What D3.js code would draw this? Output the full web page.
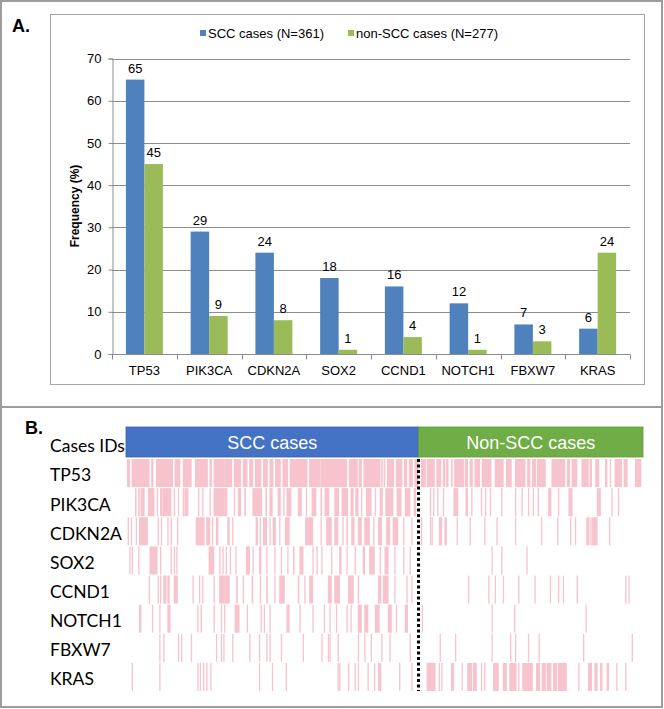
<!DOCTYPE html>
<html><head><meta charset="utf-8">
<script src="https://cdn.jsdelivr.net/npm/d3@7"></script>
<style>
html,body{margin:0;padding:0;background:#fff;}
svg{display:block;}
</style></head>
<body>
<svg id="c" width="664" height="709"></svg>
<script>
// ---------- Panel A data ----------
const categories = ["TP53","PIK3CA","CDKN2A","SOX2","CCND1","NOTCH1","FBXW7","KRAS"];
const sccValues = [65,29,24,18,16,12,7,6];
const nonSccValues = [45,9,8,1,4,1,3,24];
const yTicks = [0,10,20,30,40,50,60,70];
const seriesNames = ["SCC cases (N=361)","non-SCC cases (N=277)"];

// ---------- Panel B data ----------
const groupNames = ["SCC cases","Non-SCC cases"];
const groupSizes = [361,277];
const rowLabels = ["TP53","PIK3CA","CDKN2A","SOX2","CCND1","NOTCH1","FBXW7","KRAS"];
// mutated case ranges [first,last] (case index within group)
const tp53Scc = [[1,4],[7,28],[31,33],[37,57],[60,66],[70,80],[85,100],[103,105],[108,121],[122,130],[133,141],[144,149],[152,156],[159,166],[169,174],[177,181],[184,190],[193,199],[202,223],[226,239],[240,272],[275,285],[287,290],[293,313],[315,316],[318,319],[322,330],[333,340],[343,346],[349,353],[356,360]];
const tp53Non = [[3,8],[10,19],[22,27],[30,32],[34,36],[40,41],[44,55],[57,60],[63,66],[69,75],[78,89],[94,104],[108,114],[119,131],[134,137],[140,144],[146,149],[150,156],[164,180],[183,186],[189,195],[201,209],[211,213],[218,222],[230,232],[236,236],[242,250],[253,257],[267,274]];
const pik3caScc = [[11,12],[15,16],[18,22],[27,34],[38,38],[42,44],[45,55],[59,59],[64,64],[70,70],[72,76],[89,89],[94,94],[103,103],[108,121],[122,124],[133,133],[138,141],[146,147],[156,167],[172,173],[177,180],[187,190],[194,194],[198,203],[212,216],[222,222],[229,234],[240,241],[245,250],[257,262],[266,273],[277,280],[283,286],[290,290],[296,302],[307,307],[313,316],[320,329],[334,339],[344,350],[355,357]];
const pik3caNon = [[14,14],[18,18],[23,23],[30,30],[43,48],[58,60],[65,65],[77,77],[82,82],[88,88],[102,102],[119,119],[127,127],[135,135],[141,141],[147,147],[160,163],[172,172],[185,189],[220,224],[238,238],[246,246]];
const cdkn2aScc = [[2,2],[6,6],[12,12],[16,26],[39,39],[43,43],[51,51],[55,55],[63,63],[86,96],[99,103],[106,106],[111,113],[125,127],[131,131],[160,162],[165,165],[169,173],[177,177],[181,184],[189,189],[196,201],[221,230],[240,240],[247,253],[257,261],[267,267],[272,273],[278,281],[286,290],[294,300],[305,305],[311,315],[321,325],[329,335],[342,342],[352,352]];
const cdkn2aNon = [[3,3],[14,14],[16,16],[25,28],[32,34],[47,47],[63,63],[81,81],[96,96],[119,119],[151,151],[171,171],[187,187],[193,193],[207,210],[212,212],[214,220],[235,235]];
const sox2Scc = [[4,4],[7,7],[15,15],[29,38],[42,42],[55,55],[59,59],[62,62],[102,108],[115,115],[119,119],[123,123],[128,128],[135,135],[148,152],[156,156],[164,166],[173,173],[183,183],[191,191],[199,199],[206,207],[214,218],[230,230],[235,235],[241,241],[253,253],[263,265],[272,272],[282,282],[292,294],[300,306],[313,313],[319,323],[331,331],[342,342],[350,350]];
const sox2Non = [[90,90],[102,102],[133,133]];
const ccnd1Scc = [[28,28],[39,39],[42,42],[46,49],[51,53],[59,63],[82,82],[90,90],[94,94],[108,108],[115,121],[122,127],[136,137],[144,144],[155,156],[165,165],[173,174],[183,183],[189,195],[212,213],[220,220],[226,230],[249,253],[257,263],[274,280],[286,286],[311,314],[317,323],[331,331],[346,346],[352,352]];
const ccnd1Non = [[61,61],[86,86],[94,94],[104,104],[123,123],[143,143],[162,162],[172,172],[178,178],[195,195],[255,255],[259,259]];
const notch1Scc = [[16,18],[32,32],[41,41],[51,54],[88,88],[92,92],[108,108],[117,117],[121,121],[134,139],[149,149],[166,166],[170,170],[177,177],[198,201],[214,214],[230,230],[244,244],[251,251],[259,259],[272,272],[277,277],[286,290],[294,298],[307,312],[323,327],[333,333],[344,347]];
const notch1Non = [[4,4],[90,90],[118,118],[206,206]];
const fbxw7Scc = [[41,41],[46,46],[64,64],[68,68],[80,80],[111,111],[117,117],[120,120],[131,131],[152,152],[164,164],[173,173],[177,177],[191,191],[218,218],[241,241],[249,249],[251,251],[261,261],[286,286],[294,294],[302,302],[315,315],[325,325],[350,350]];
const fbxw7Non = [[26,26],[45,45],[90,90],[113,113],[119,119],[135,135],[148,148],[203,203],[263,263]];
const krasScc = [[7,7],[41,41],[88,88],[91,91],[95,95],[99,99],[104,104],[164,164],[180,180],[197,197],[261,261],[263,263],[274,274],[282,282],[286,286],[298,298],[306,306],[311,314],[337,337],[352,352]];
const krasNon = [[10,20],[25,25],[28,28],[40,43],[53,53],[60,65],[67,71],[77,77],[81,81],[92,98],[104,108],[112,120],[123,123],[128,140],[145,149],[152,156],[158,163],[166,170],[172,182],[197,197],[209,213],[217,220],[224,226],[232,234],[244,244],[255,255]];

const sccRows = [tp53Scc,pik3caScc,cdkn2aScc,sox2Scc,ccnd1Scc,notch1Scc,fbxw7Scc,krasScc];
const nonRows = [tp53Non,pik3caNon,cdkn2aNon,sox2Non,ccnd1Non,notch1Non,fbxw7Non,krasNon];

// ---------- drawing ----------
const svg = d3.select("#c");
const C_BLUE = "#4f81bd", C_GREEN = "#9bbb59";
const AX = "#8c8c8c";
const ARIAL = "Liberation Sans, Arial, sans-serif";

// outer frame
svg.append("rect").attr("x",1).attr("y",1).attr("width",661).attr("height",706)
  .attr("fill","none").attr("stroke","#9d9d9d").attr("stroke-width",2);
svg.append("line").attr("x1",1).attr("x2",662).attr("y1",407).attr("y2",407)
  .attr("stroke","#9d9d9d").attr("stroke-width",2);

// Panel A
svg.append("text").attr("x",12).attr("y",32).text("A.")
  .attr("font-family",ARIAL).attr("font-weight","bold").attr("font-size",18);
svg.append("rect").attr("x",50.5).attr("y",14.5).attr("width",594).attr("height",370)
  .attr("fill","none").attr("stroke","#a6a6a6").attr("stroke-width",1);

const y = d3.scaleLinear().domain([0,70]).range([354,58.5]);
const x0 = d3.scaleBand().domain(categories).range([112,630]).padding(0);
const x1 = d3.scaleBand().domain([0,1]).range([13.9, 50.9]).padding(0);

const gA = svg.append("g").attr("font-family",ARIAL);
// gridlines
gA.selectAll("line.grid").data(yTicks.filter(d=>d>0)).join("line")
  .attr("x1",112).attr("x2",630).attr("y1",d=>Math.round(y(d))+0.5).attr("y2",d=>Math.round(y(d))+0.5)
  .attr("stroke",AX).attr("stroke-width",1);
// y axis
const yAxis = d3.axisLeft(y).tickValues(yTicks).tickSize(4).tickPadding(7);
const gy = gA.append("g").attr("transform","translate(112.5,0)").call(yAxis);
gy.attr("font-family",ARIAL);
gy.select(".domain").attr("stroke",AX);
gy.selectAll(".tick line").attr("stroke",AX);
gy.selectAll(".tick text").attr("font-size",13).attr("fill","#000");
// x axis
const gx = gA.append("g").attr("transform","translate(0,354.5)");
gx.append("line").attr("x1",112).attr("x2",630).attr("stroke",AX);
const bounds = categories.map(c=>x0(c)).concat([x0(categories[categories.length-1])+x0.bandwidth()]);
gx.selectAll("line.t").data(bounds).join("line").attr("class","t")
  .attr("x1",d=>Math.round(d)+0.5).attr("x2",d=>Math.round(d)+0.5).attr("y1",0).attr("y2",5).attr("stroke",AX);
gx.selectAll("text").data(categories).join("text")
  .attr("x",d=>x0(d)+x0.bandwidth()/2).attr("y",20.5).attr("text-anchor","middle")
  .attr("font-size",13).text(d=>d);

// bars
const series = [sccValues, nonSccValues];
const colors = [C_BLUE, C_GREEN];
series.forEach((vals,si)=>{
  gA.selectAll("rect.s"+si).data(categories).join("rect").attr("class","s"+si)
    .attr("x",(d)=>x0(d)+x1(si)).attr("width",x1.bandwidth())
    .attr("y",(d,i)=>y(vals[i])).attr("height",(d,i)=>y(0)-y(vals[i]))
    .attr("fill",colors[si]);
  gA.selectAll("text.v"+si).data(categories).join("text").attr("class","v"+si)
    .attr("x",(d)=>x0(d)+x1(si)+x1.bandwidth()/2).attr("y",(d,i)=>y(vals[i])-7)
    .attr("text-anchor","middle").attr("font-size",13).text((d,i)=>vals[i]);
});

// y title
gA.append("text").attr("transform","translate(79,206) rotate(-90)").attr("text-anchor","middle")
  .attr("font-size",12).attr("font-weight","bold").text("Frequency (%)");

// legend
const legX = [200, 348];
seriesNames.forEach((n,i)=>{
  gA.append("rect").attr("x",legX[i]).attr("y",30).attr("width",6).attr("height",6).attr("fill",colors[i]);
  gA.append("text").attr("x",legX[i]+8).attr("y",38).attr("font-size",13).text(n);
});

// Panel B
svg.append("text").attr("x",25).attr("y",434).text("B.")
  .attr("font-family",ARIAL).attr("font-weight","bold").attr("font-size",18);

const total = groupSizes[0]+groupSizes[1];
const xc = d3.scaleLinear().domain([0,total]).range([126,643]);
const cw = xc(1)-xc(0);
const rowBand = d3.scaleBand().domain(rowLabels).range([459,691]).paddingInner(0.035).paddingOuter(0);

// header boxes
const hdrColors = ["#4472c4","#70ad47"];
const hdrStroke = ["#3b62a9","#5f9a3b"];
const starts = [0, groupSizes[0]];
groupNames.forEach((g,i)=>{
  const xa = xc(starts[i]), xb = xc(starts[i]+groupSizes[i]);
  svg.append("rect").attr("x",xa).attr("y",427).attr("width",xb-xa).attr("height",30)
    .attr("fill",hdrColors[i]).attr("stroke",hdrStroke[i]).attr("stroke-width",0.8);
  svg.append("text").attr("x",(xa+xb)/2).attr("y",449).attr("text-anchor","middle")
    .attr("fill","#fff").attr("font-size",18).attr("font-family",ARIAL).text(g);
});

// row labels
const gB = svg.append("g").attr("font-family","Lato, 'Open Sans', sans-serif");
gB.append("text").attr("x",50).attr("y",448).attr("dominant-baseline","middle")
  .attr("font-size",17.5).text("Cases IDs");
gB.selectAll("text.rl").data(rowLabels).join("text").attr("class","rl")
  .attr("x",50).attr("y",d=>rowBand(d)+rowBand.bandwidth()/2+4).attr("dominant-baseline","middle")
  .attr("font-size",17.5).text(d=>d);

// marks
const PINK = "#f7c3cd";
rowLabels.forEach((g,ri)=>{
  [sccRows[ri], nonRows[ri]].forEach((ranges,gi)=>{
    gB.selectAll(null).data(ranges).join("rect")
      .attr("x",d=>xc(starts[gi]+d[0]))
      .attr("width",d=>Math.max((d[1]-d[0]+1)*cw, 1.3))
      .attr("y",rowBand(g)).attr("height",rowBand.bandwidth())
      .attr("fill",PINK);
  });
});

// divider
svg.append("line").attr("x1",xc(groupSizes[0])).attr("x2",xc(groupSizes[0]))
  .attr("y1",459).attr("y2",691).attr("stroke","#000").attr("stroke-width",3)
  .attr("stroke-dasharray","3,2.5");
</script>
</body></html>
